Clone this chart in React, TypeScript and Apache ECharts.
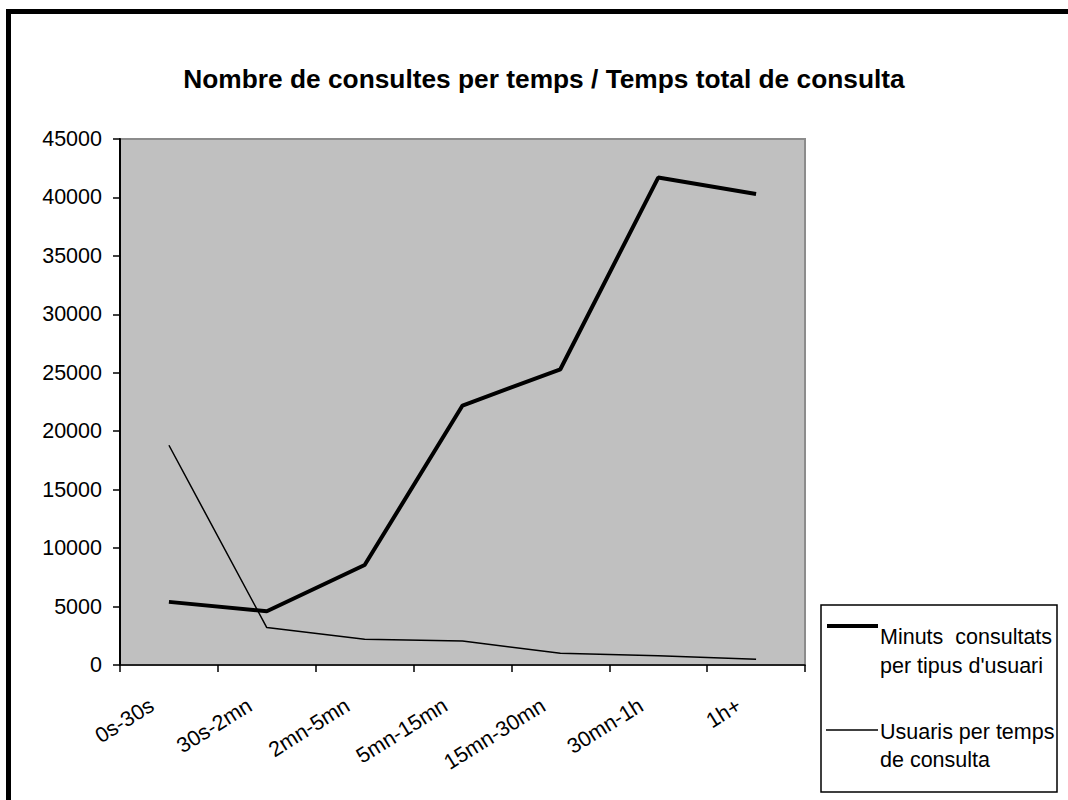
import React, { useEffect, useRef } from "react";
import * as echarts from "echarts";

const categories = ["0s-30s", "30s-2mn", "2mn-5mn", "5mn-15mn", "15mn-30mn", "30mn-1h", "1h+"];
const minutsConsultats = [5400, 4600, 8550, 22200, 25300, 41700, 40300];
const usuarisPerTemps = [18800, 3200, 2200, 2050, 1000, 800, 500];
const yTicks = { min: 0, max: 45000, interval: 5000 };
const seriesNames = ["Minuts  consultats per tipus d'usuari", "Usuaris per temps de consulta"];
const legendLines = [["Minuts  consultats", "per tipus d'usuari"], ["Usuaris per temps", "de consulta"]];
const titleText = "Nombre de consultes per temps / Temps total de consulta";

const FONT = "'Liberation Sans', Arial, sans-serif";

export default function App() {
  const ref = useRef<HTMLDivElement>(null);
  useEffect(() => {
    if (!ref.current) return;
    const chart = echarts.init(ref.current, null, { renderer: "svg" });
    chart.setOption({
      animation: false,
      backgroundColor: "#ffffff",
      textStyle: { fontFamily: FONT },
      title: {
        text: titleText,
        left: 539,
        top: 61,
        textAlign: "center",
        textStyle: { fontFamily: FONT, fontSize: 26.3, fontWeight: "bold", color: "#000" },
      },
      grid: {
        left: 120,
        top: 139,
        width: 685,
        height: 526,
        show: true,
        backgroundColor: "#C0C0C0",
        borderColor: "#8c8c8c",
        borderWidth: 2,
      },
      xAxis: {
        type: "category",
        data: categories,
        boundaryGap: true,
        axisLine: { show: true, lineStyle: { color: "#000", width: 1.5 } },
        axisTick: { show: true, length: 7, lineStyle: { color: "#000", width: 1.5 } },
        axisLabel: {
          interval: 0,
          rotate: 32,
          margin: 28,
          padding: [0, 20, 0, 0],
          fontFamily: FONT,
          fontSize: 21.5,
          color: "#000",
        },
        splitLine: { show: false },
      },
      yAxis: {
        type: "value",
        min: yTicks.min,
        max: yTicks.max,
        interval: yTicks.interval,
        axisLine: { show: true, lineStyle: { color: "#000", width: 2 } },
        axisTick: { show: true, length: 7, lineStyle: { color: "#000", width: 1.5 } },
        axisLabel: {
          margin: 18,
          fontFamily: FONT,
          fontSize: 21.5,
          color: "#000",
          formatter: (v: number) => String(v),
        },
        splitLine: { show: false },
      },
      series: [
        {
          name: seriesNames[0],
          type: "line",
          data: minutsConsultats,
          symbol: "none",
          lineStyle: { color: "#000", width: 4 },
          z: 3,
        },
        {
          name: seriesNames[1],
          type: "line",
          data: usuarisPerTemps,
          symbol: "none",
          lineStyle: { color: "#000", width: 1.5 },
          z: 2,
        },
      ],
      graphic: [
        {
          type: "rect",
          shape: { x: 6, y: 9, width: 5, height: 791 },
          style: { fill: "#000" },
          silent: true,
        },
        {
          type: "rect",
          shape: { x: 6, y: 9, width: 1062, height: 5 },
          style: { fill: "#000" },
          silent: true,
        },
        {
          type: "rect",
          shape: { x: 821, y: 605, width: 236, height: 187 },
          style: { fill: "#fff", stroke: "#000", lineWidth: 1.5 },
          silent: true,
        },
        {
          type: "line",
          shape: { x1: 827, y1: 626, x2: 878, y2: 626 },
          style: { stroke: "#000", lineWidth: 4 },
        },
        {
          type: "text",
          x: 880,
          y: 622,
          style: {
            text: legendLines[0].join("\n"),
            font: `21.5px ${FONT}`,
            fill: "#000",
            lineHeight: 29,
            textVerticalAlign: "top",
          },
        },
        {
          type: "line",
          shape: { x1: 826, y1: 730, x2: 878, y2: 730 },
          style: { stroke: "#000", lineWidth: 1.5 },
        },
        {
          type: "text",
          x: 880,
          y: 718,
          style: {
            text: legendLines[1].join("\n"),
            font: `21.5px ${FONT}`,
            fill: "#000",
            lineHeight: 28,
            textVerticalAlign: "top",
          },
        },
      ],
    });
    return () => chart.dispose();
  }, []);
  return (
    <div
      ref={ref}
      style={{ position: "absolute", left: 0, top: 0, width: 1068, height: 800 }}
    />
  );
}
